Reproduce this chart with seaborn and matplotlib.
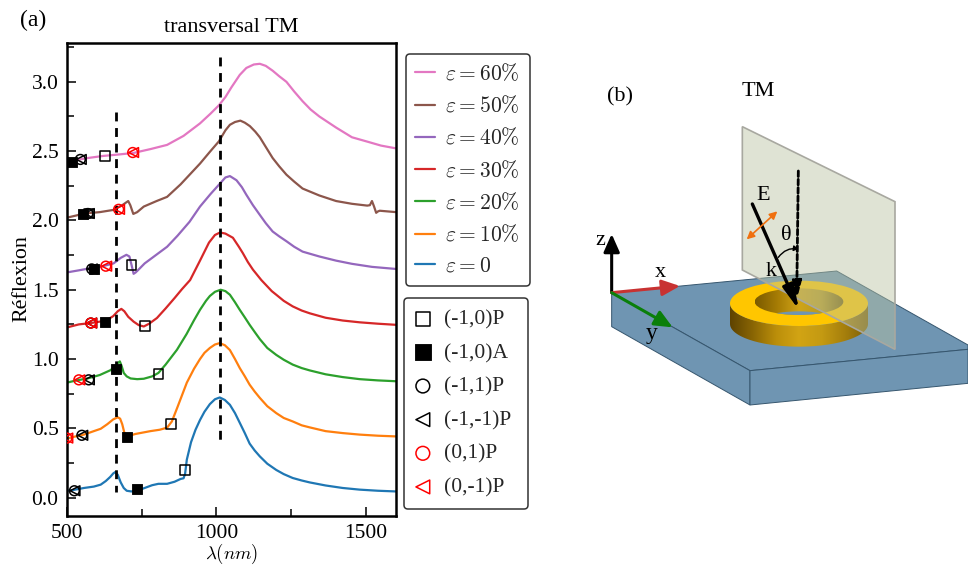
#!/usr/bin/env python
"""Reflexion spectra for several strains (a) and the ring sketch (b)."""

import matplotlib
matplotlib.use('Agg')
import matplotlib.pyplot as plt
import numpy as np
import seaborn as sns
from matplotlib.colors import LinearSegmentedColormap
from matplotlib.patches import Ellipse, FancyArrowPatch, PathPatch, Polygon
from matplotlib.path import Path
from matplotlib.ticker import MultipleLocator

# spectra, one (wavelength, reflexion) pair per knot
wl_0 = [500, 520, 557, 590, 613, 630, 645, 655, 662, 670, 680, 690, 700, 715, 735, 760, 785, 806, 835, 860, 880, 890, 895, 901, 915, 930, 945, 960, 978, 995, 1011, 1028, 1045, 1062, 1078, 1095, 1111, 1128, 1145, 1170, 1200, 1225, 1255, 1285, 1312, 1365, 1422, 1479, 1540, 1600]
r_0 = [.05, .055, .07, .08, .094, .12, .15, .175, .185, .165, .11, .07, .05, .045, .05, .07, .09, .10, .10, .115, .135, .14, .17, .275, .40, .49, .56, .62, .675, .71, .723, .705, .67, .61, .54, .465, .39, .34, .298, .245, .20, .17, .142, .124, .11, .088, .07, .058, .05, .045]
wl_10 = [500, 525, 557, 590, 613, 635, 655, 670, 678, 685, 693, 705, 730, 779, 810, 835, 851, 870, 901, 925, 945, 960, 978, 995, 1011, 1028, 1045, 1062, 1078, 1095, 1111, 1128, 1145, 1170, 1200, 1225, 1255, 1285, 1312, 1365, 1422, 1479, 1540, 1600]
r_10 = [.425, .44, .455, .48, .497, .53, .565, .58, .57, .53, .46, .445, .46, .48, .49, .505, .55, .655, .83, .93, 1.0, 1.045, 1.08, 1.105, 1.115, 1.1, 1.065, 1.0, .935, .875, .815, .765, .72, .66, .61, .575, .55, .522, .507, .48, .466, .455, .447, .442]
wl_20 = [500, 530, 569, 610, 646, 662, 672, 677, 683, 690, 700, 713, 735, 757, 785, 806, 830, 868, 900, 925, 945, 965, 978, 995, 1014, 1030, 1045, 1062, 1078, 1095, 1111, 1128, 1145, 1170, 1200, 1225, 1255, 1285, 1312, 1365, 1422, 1479, 1540, 1600]
r_20 = [.83, .845, .86, .885, .92, .95, .975, .983, .95, .9, .875, .86, .855, .858, .875, .9, .96, 1.067, 1.18, 1.28, 1.355, 1.42, 1.455, 1.485, 1.5, 1.49, 1.464, 1.41, 1.355, 1.3, 1.247, 1.195, 1.144, 1.08, 1.03, .995, .96, .935, .918, .89, .87, .855, .846, .84]
wl_30 = [500, 540, 580, 610, 635, 655, 670, 682, 692, 705, 723, 740, 757, 775, 801, 830, 860, 885, 912, 945, 975, 995, 1012, 1030, 1055, 1075, 1088, 1105, 1122, 1150, 1185, 1200, 1225, 1255, 1285, 1312, 1365, 1422, 1479, 1540, 1600]
r_30 = [1.228, 1.25, 1.26, 1.27, 1.283, 1.31, 1.345, 1.362, 1.345, 1.305, 1.27, 1.245, 1.235, 1.255, 1.296, 1.365, 1.44, 1.505, 1.57, 1.71, 1.84, 1.895, 1.913, 1.905, 1.875, 1.81, 1.765, 1.70, 1.645, 1.57, 1.49, 1.464, 1.42, 1.38, 1.35, 1.33, 1.298, 1.278, 1.265, 1.255, 1.247]
wl_40 = [500, 540, 580, 620, 656, 680, 699, 709, 716, 723, 730, 739, 760, 785, 835, 870, 910, 945, 980, 1008, 1030, 1045, 1067, 1085, 1100, 1122, 1145, 1165, 1188, 1210, 1234, 1260, 1288, 1344, 1400, 1453, 1520, 1600]
r_40 = [1.625, 1.64, 1.656, 1.67, 1.69, 1.73, 1.752, 1.74, 1.68, 1.615, 1.625, 1.644, 1.69, 1.73, 1.81, 1.89, 1.99, 2.1, 2.19, 2.257, 2.31, 2.32, 2.29, 2.24, 2.185, 2.11, 2.04, 1.98, 1.92, 1.885, 1.85, 1.81, 1.775, 1.74, 1.71, 1.687, 1.665, 1.65]
wl_50 = [500, 530, 557, 610, 656, 685, 705, 712, 722, 735, 757, 800, 835, 880, 945, 980, 1008, 1030, 1045, 1062, 1080, 1095, 1112, 1130, 1145, 1165, 1188, 1210, 1234, 1260, 1288, 1344, 1400, 1453, 1504, 1513, 1520, 1527, 1534, 1540, 1546, 1600]
r_50 = [2.02, 2.035, 2.05, 2.06, 2.076, 2.11, 2.14, 2.11, 2.047, 2.06, 2.1, 2.14, 2.17, 2.26, 2.41, 2.5, 2.57, 2.65, 2.69, 2.71, 2.72, 2.705, 2.68, 2.64, 2.6, 2.53, 2.45, 2.39, 2.33, 2.28, 2.23, 2.18, 2.14, 2.12, 2.107, 2.11, 2.14, 2.1, 2.055, 2.065, 2.07, 2.06]
wl_60 = [500, 530, 569, 620, 670, 723, 780, 835, 890, 945, 980, 1008, 1030, 1050, 1078, 1100, 1125, 1145, 1165, 1188, 1210, 1234, 1260, 1288, 1315, 1344, 1400, 1453, 1510, 1550, 1600]
r_60 = [2.415, 2.435, 2.45, 2.465, 2.475, 2.487, 2.515, 2.545, 2.61, 2.70, 2.77, 2.83, 2.89, 2.96, 3.05, 3.1, 3.125, 3.13, 3.115, 3.08, 3.04, 3.0, 2.93, 2.86, 2.8, 2.75, 2.67, 2.6, 2.565, 2.54, 2.52]

curves = [(wl_0, r_0, r'$\varepsilon = 0$'),
          (wl_10, r_10, r'$\varepsilon = 10\%$'),
          (wl_20, r_20, r'$\varepsilon = 20\%$'),
          (wl_30, r_30, r'$\varepsilon = 30\%$'),
          (wl_40, r_40, r'$\varepsilon = 40\%$'),
          (wl_50, r_50, r'$\varepsilon = 50\%$'),
          (wl_60, r_60, r'$\varepsilon = 60\%$' + '\u00a0')]

# diffraction orders, one point per strain (0 to 60%)
p10_x = [895, 849, 806, 762, 716, 572, 627]
p10_y = [0.2, 0.53, 0.89, 1.24, 1.68, 2.05, 2.465]
a10_x = [735, 700, 663, 626, 590, 553, 517]
a10_y = [0.06, 0.44, 0.93, 1.27, 1.65, 2.05, 2.42]
p11_x = [525, 550, 573, 580, 583, 570, 545]
p11_y = [0.05, 0.45, 0.85, 1.26, 1.65, 2.05, 2.44]
p1m1_x = [527, 553, 575, 583, 585, 575, 548]
p1m1_y = [0.05, 0.45, 0.85, 1.26, 1.65, 2.05, 2.44]
p01_x = [462, 500, 540, 580, 630, 673, 720]
p01_y = [0.02, 0.43, 0.85, 1.26, 1.67, 2.08, 2.49]
p0m1_x = [465, 503, 543, 583, 633, 676, 723]
p0m1_y = [0.02, 0.43, 0.85, 1.26, 1.67, 2.08, 2.49]

BLACK = '#000000'
RED = '#ff0000'

sns.set_theme(style="ticks", palette="tab10")
plt.rcParams['font.family'] = ['Liberation Serif', 'DejaVu Serif']
plt.rcParams['mathtext.fontset'] = 'cm'

fig = plt.figure(figsize=(9.68, 5.66), dpi=100)
ax = fig.add_axes([66.9 / 968, 50.3 / 566, 329 / 968, 472.7 / 566])

for wl, refl, name in curves:
    sns.lineplot(x=wl, y=refl, ax=ax, label=name, linewidth=1.6, errorbar=None)

ax.plot([663, 663], [2.78, 0.04], color=BLACK, lw=2, dashes=(3.2, 2.4))
ax.plot([1011, 1011], [3.18, 0.38], color=BLACK, lw=2, dashes=(3.2, 2.4))

open_style = dict(s=50, linewidth=1.1, facecolors='none', zorder=5, clip_on=True)
sns.scatterplot(x=p10_x, y=p10_y, ax=ax, marker='s', edgecolor=BLACK, label='(-1,0)P', **open_style)
sns.scatterplot(x=a10_x, y=a10_y, ax=ax, marker='s', s=60, color=BLACK, edgecolor=BLACK, label='(-1,0)A', zorder=5)
sns.scatterplot(x=p11_x, y=p11_y, ax=ax, marker='o', edgecolor=BLACK, label='(-1,1)P', **open_style)
sns.scatterplot(x=p1m1_x, y=p1m1_y, ax=ax, marker='<', edgecolor=BLACK, label='(-1,-1)P\u00a0', **open_style)
sns.scatterplot(x=p01_x, y=p01_y, ax=ax, marker='o', edgecolor=RED, label='(0,1)P', **open_style)
sns.scatterplot(x=p0m1_x, y=p0m1_y, ax=ax, marker='<', edgecolor=RED, label='(0,-1)P', **open_style)

ax.set_xlim(500, 1600)
ax.set_ylim(-0.13, 3.28)
ax.xaxis.set_major_locator(MultipleLocator(500))
ax.xaxis.set_minor_locator(MultipleLocator(250))
ax.yaxis.set_major_locator(MultipleLocator(0.5))
ax.yaxis.set_minor_locator(MultipleLocator(0.25))
ax.tick_params(which='major', direction='in', length=6.7, width=1.1, labelsize=15.5, colors=BLACK, pad=6)
ax.tick_params(which='minor', direction='in', length=4.8, width=1.1, colors=BLACK)
for side in ax.spines.values():
    side.set_linewidth(1.8)
    side.set_color(BLACK)
ax.set_xlabel('')
ax.set_ylabel('')
ax.set_title('')
fig.text(232 / 968, 1 - 554 / 566, r'$\lambda(nm)$', fontsize=13.5, ha='center', va='center', color=BLACK)
fig.text(22 / 968, 1 - 279 / 566, 'Réflexion', fontsize=15.8, rotation=90, ha='center', va='center', color=BLACK)
fig.text(231 / 968, 1 - 27 / 566, 'transversal TM', fontsize=16, ha='center', va='center', color=BLACK)

handles, labels = ax.get_legend_handles_labels()
leg_style = dict(frameon=True, fancybox=True, edgecolor='#333333', framealpha=1,
                 fontsize=15.5, loc='upper left', bbox_transform=fig.transFigure,
                 borderaxespad=0)
leg1 = ax.legend(handles[6::-1], labels[6::-1], bbox_to_anchor=(406 / 968, 1 - 54 / 566),
                 labelspacing=0.49, handlelength=0.93, handletextpad=0.47, borderpad=0.42, **leg_style)
leg1.get_frame().set_linewidth(1.1)
ax.add_artist(leg1)
leg2 = ax.legend(handles[7:], labels[7:], bbox_to_anchor=(404 / 968, 1 - 297.5 / 566),
                 labelspacing=0.63, handlelength=0.65, handletextpad=0.65, borderpad=0.55,
                 markerscale=1.4, **leg_style)
leg2.get_frame().set_linewidth(1.1)

fig.text(20 / 968, 1 - 20 / 566, '(a)', fontsize=17, va='center', color=BLACK)

# panel (b), drawn in image pixels on a transparent overlay
sk = fig.add_axes([0, 0, 1, 1], facecolor='none')
sk.set_xlim(0, 968)
sk.set_ylim(566, 0)
sk.axis('off')


def px(points):
    return [(580 + a / 3, 70 + b / 3) for a, b in points]


slab_top = px([(95, 668), (770, 603), (1164, 825), (1164, 838), (510, 902)])
slab_left = px([(95, 668), (510, 902), (510, 1005), (95, 770)])
slab_front = px([(510, 902), (1164, 838), (1164, 940), (510, 1005)])
for face in (slab_top, slab_left, slab_front):
    sk.add_patch(Polygon(face, closed=True, facecolor='#6f95b2', edgecolor='#36566e', lw=0.7, zorder=1))

cx, cy = px([(657, 700)])[0]
rx_out, ry_out, depth = 207 / 3, 68 / 3, 62 / 3
rx_in, ry_in, hole_cy = 133 / 3, 40 / 3, cy - 5 / 3

side_cmap = LinearSegmentedColormap.from_list('side', ['#5e4300', '#8a6604', '#bb8e0a', '#d2a414', '#c49a12', '#a67f0c', '#7d6008'])
wall_cmap = LinearSegmentedColormap.from_list('wall', ['#7a5a00', '#a67c04', '#d0a418', '#b89a20', '#7a6410'])
ramp = np.linspace(0, 1, 256).reshape(1, -1)

# outer side of the ring: lower half of the ellipse swept down by the depth
low = np.linspace(0, np.pi, 100)
side_pts = np.r_[np.c_[cx + rx_out * np.cos(low), cy + depth + ry_out * np.sin(low)],
                 np.c_[cx + rx_out * np.cos(low[::-1]), cy + ry_out * np.sin(low[::-1])]]
side_clip = PathPatch(Path(side_pts), transform=sk.transData, facecolor='none', edgecolor='none')
sk.add_patch(side_clip)
side_img = sk.imshow(ramp, extent=(cx - rx_out, cx + rx_out, cy + depth + ry_out, cy), aspect='auto', cmap=side_cmap, zorder=2)
side_img.set_clip_path(side_clip)

sk.add_patch(Ellipse((cx, cy), 2 * rx_out, 2 * ry_out, facecolor='#ffc600', edgecolor='none', zorder=3))

hole = Ellipse((cx, hole_cy), 2 * rx_in, 2 * ry_in, facecolor='none', edgecolor='none', zorder=4)
sk.add_patch(hole)
wall_img = sk.imshow(ramp, extent=(cx - rx_in, cx + rx_in, hole_cy + ry_in, hole_cy - ry_in), aspect='auto', cmap=wall_cmap, zorder=4)
wall_img.set_clip_path(hole)
floor = Ellipse((cx, hole_cy + 23), 2 * rx_in, 2 * ry_in, facecolor='#6f95b2', edgecolor='none', zorder=4.5)
sk.add_patch(floor)
floor.set_clip_path(hole)
sk.set_xlim(0, 968)
sk.set_ylim(566, 0)

plane = px([(487, 170), (945, 395), (945, 838), (487, 600)])
sk.add_patch(Polygon(plane, closed=True, facecolor=(0.73, 0.765, 0.63, 0.45), edgecolor='#a8a8a0', lw=1.2, zorder=6))


def arrow(start, end, color, width=2.2, style='-|>,head_length=0.45,head_width=0.2', scale=24, **kw):
    (a, b) = px([start, end])
    sk.add_patch(FancyArrowPatch(a, b, arrowstyle=style, mutation_scale=scale, color=color,
                                 lw=width, shrinkA=0, shrinkB=0, zorder=7, **kw))


arrow((95, 668), (95, 492), BLACK)
arrow((95, 668), (300, 648), '#c83232')
arrow((95, 668), (278, 772), '#0a7f0a')
arrow((517, 402), (657, 720), BLACK, width=2.4, style='-|>,head_length=0.6,head_width=0.135')
arrow((655, 303), (650, 690), BLACK, width=2, scale=18, style='-|>,head_length=0.6,head_width=0.15', linestyle=(0, (2, 1)))
arrow((500, 508), (592, 424), '#f07010', width=1.2, style='<|-|>,head_length=0.5,head_width=0.25', scale=9)
arrow((595, 562), (656, 537), BLACK, width=1, style='-|>,head_length=0.35,head_width=0.2', scale=8, connectionstyle='arc3,rad=-0.3')

for text, where, size in [('z', (60, 512), 16), ('x', (240, 607), 16), ('y', (215, 790), 17),
                          ('E', (550, 378), 16), ('θ', (618, 497), 16), ('k', (572, 605), 16)]:
    (a, b) = px([where])[0]
    sk.text(a, b, text, fontsize=size, ha='center', va='center', color=BLACK, zorder=8)

fig.text(607 / 968, 1 - 97 / 566, '(b)', fontsize=16, va='center', color=BLACK)
fig.text(742 / 968, 1 - 92 / 566, 'TM', fontsize=16, va='center', color=BLACK)

plt.savefig('out.png', dpi=100)
plt.close()
